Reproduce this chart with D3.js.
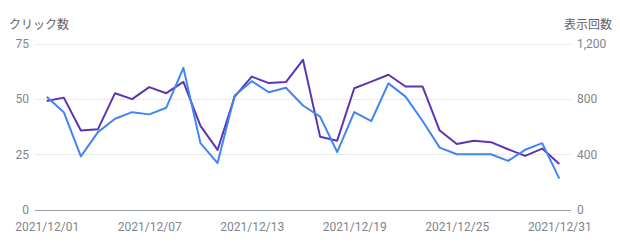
<!DOCTYPE html>
<html>
<head>
<meta charset="utf-8">
<script src="https://cdn.jsdelivr.net/npm/d3@7"></script>
<style>
  body { margin: 0; background: #fff; }
  svg text { font-family: Roboto, "Noto Sans CJK JP", sans-serif; }
  .domain { display: none; }
</style>
</head>
<body>
<svg width="620" height="245"></svg>
<script>
// Data
var days = d3.range(1, 32).map(function (d) { return new Date(2021, 11, d); });
var clicks = [51, 44, 24, 35, 41, 44, 43, 46, 64, 30, 21, 51.5, 58, 53, 55, 47, 42, 26, 44, 40, 57, 51, 40, 28, 25, 25, 25, 22, 27, 30, 14];
var impressions = [785, 809, 571, 581, 841, 798, 885, 841, 923, 605, 431, 816, 961, 914, 921, 1082, 527, 498, 877, 925, 974, 889, 889, 571, 474, 498, 487, 436, 388, 441, 330];
var leftTicks = [0, 25, 50, 75];
var rightTicks = [0, 400, 800, 1200];
var dateTicks = [1, 7, 13, 19, 25, 31].map(function (d) { return new Date(2021, 11, d); });
var leftTitle = "クリック数";
var rightTitle = "表示回数";

// Layout
var gridLeft = 35, gridRight = 571;
var svg = d3.select("svg");

var x = d3.scaleTime()
    .domain([days[0], days[days.length - 1]])
    .range([46.7, 559.3]);
var yLeft = d3.scaleLinear().domain([0, 75]).range([209.6, 43.5]);
var yRight = d3.scaleLinear().domain([0, 1200]).range([209.6, 43.5]);

// Gridlines
svg.append("g")
    .selectAll("line")
    .data(leftTicks)
    .enter()
    .append("line")
    .attr("x1", gridLeft)
    .attr("x2", gridRight)
    .attr("y1", function (d) { return Math.round(yLeft(d)) + 0.5; })
    .attr("y2", function (d) { return Math.round(yLeft(d)) + 0.5; })
    .attr("stroke", function (d) { return d === 0 ? "#9aa0a6" : "#e8eaed"; })
    .attr("stroke-width", 1);

// Left axis labels
var axL = svg.append("g")
    .attr("transform", "translate(" + (gridLeft - 6) + ",0)")
    .call(d3.axisLeft(yLeft).tickValues(leftTicks).tickSize(0).tickPadding(0));
axL.selectAll("text")
    .attr("font-size", "12px")
    .attr("fill", "#80868b");

// Right axis labels
var axR = svg.append("g")
    .attr("transform", "translate(" + (gridRight + 6) + ",0)")
    .call(d3.axisRight(yRight).tickValues(rightTicks).tickSize(0).tickPadding(0)
        .tickFormat(d3.format(",")));
axR.selectAll("text")
    .attr("font-size", "12px")
    .attr("fill", "#80868b");

// Date axis
var axX = svg.append("g")
    .attr("transform", "translate(0,222)")
    .call(d3.axisBottom(x).tickValues(dateTicks).tickSize(0).tickPadding(0)
        .tickFormat(d3.timeFormat("%Y/%m/%d")));
axX.selectAll("text")
    .attr("font-size", "12px")
    .attr("fill", "#80868b");

// Titles
svg.append("text")
    .attr("x", 9)
    .attr("y", 29)
    .attr("font-size", "12px")
    .attr("fill", "#5f6368")
    .text(leftTitle);
svg.append("text")
    .attr("x", 612)
    .attr("y", 29)
    .attr("text-anchor", "end")
    .attr("font-size", "12px")
    .attr("fill", "#5f6368")
    .text(rightTitle);

// Lines
var lineImp = d3.line()
    .x(function (d, i) { return x(days[i]); })
    .y(function (d) { return yRight(d); });
var lineClk = d3.line()
    .x(function (d, i) { return x(days[i]); })
    .y(function (d) { return yLeft(d); });

svg.append("path")
    .datum(impressions)
    .attr("d", lineImp)
    .attr("fill", "none")
    .attr("stroke", "#5e35b1")
    .attr("stroke-width", 2)
    .attr("stroke-linejoin", "round");

svg.append("path")
    .datum(clicks)
    .attr("d", lineClk)
    .attr("fill", "none")
    .attr("stroke", "#4285f4")
    .attr("stroke-width", 2)
    .attr("stroke-linejoin", "round");
</script>
</body>
</html>
